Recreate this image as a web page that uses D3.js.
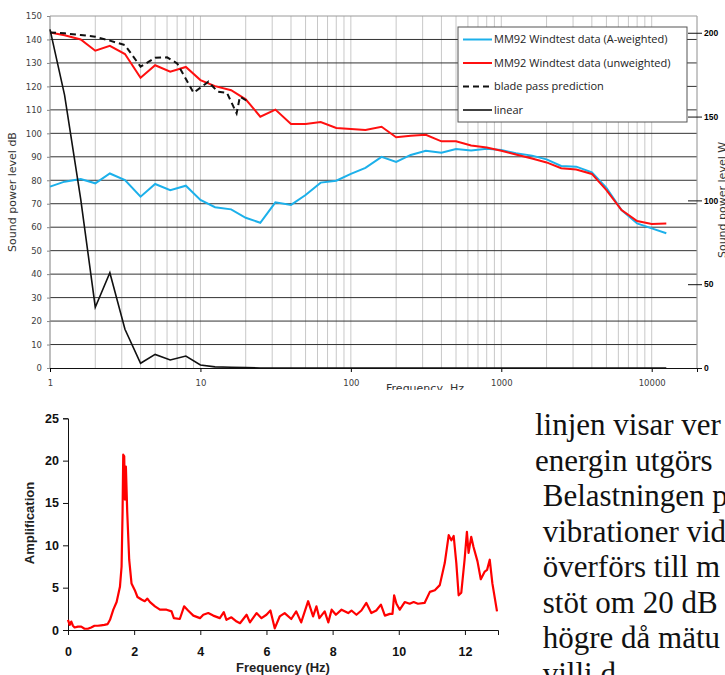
<!DOCTYPE html>
<meta charset="utf-8">
<style>
    body { margin: 0; background: #fff; }
    svg { display: block; }
    .db text { font: 8.5px "DejaVu Sans", sans-serif; fill: #404040; }
    .w text { font: bold 8.5px "Liberation Sans", sans-serif; fill: #000; }
    .amp text { font: bold 12.5px "Liberation Sans", sans-serif; fill: #111; }
    .legend text { font: 11px "Open Sans", sans-serif; fill: #222; }
    .para { font: 31px "Liberation Serif", serif; fill: #111; }
</style>
<svg width="725" height="675"></svg>

<script src="https://d3js.org/d3.v7.min.js"></script>
<script>
    // top chart: third-octave bands, sound power level dB
    var bands = [1, 1.25, 1.6, 2, 2.5, 3.15, 4, 5, 6.3, 8, 10, 12.5, 16, 20, 25, 31.5, 40, 50, 63, 80,
        100, 125, 160, 200, 250, 315, 400, 500, 630, 800, 1000, 1250, 1600, 2000, 2500, 3150, 4000, 5000, 6300, 8000, 10000, 12500];
    var aWeighted = [77.3, 79.4, 80.5, 78.7, 82.9, 80.1, 73, 78.4, 75.8, 77.7, 71.6, 68.5, 67.6, 64, 61.9, 70.6, 69.5, 73.7, 79, 79.8,
        82.7, 85.3, 90, 87.8, 90.8, 92.6, 91.7, 93.3, 92.7, 93.4, 92.9, 91.5, 90.5, 88.9, 86.1, 85.8, 83.4, 76.8, 67.3, 61.6, 59.5, 57.4];
    var unweighted = [143, 141.8, 140, 135.2, 137.3, 133.8, 123.7, 129, 126.3, 128.3, 122.7, 120.1, 118.4, 114.5, 107.1, 110.1, 104, 104, 104.8, 102.3,
        101.8, 101.4, 102.8, 98.3, 99, 99.4, 96.6, 96.6, 94.8, 94, 92.6, 91, 89.3, 87.6, 85.1, 84.6, 82.7, 75.8, 67.3, 62.6, 61.4, 61.6];
    var linear = [144.3, 116.3, 72, 25.9, 40.6, 16.5, 2, 5.8, 3.4, 5.1, 1.3, 0.5, 0.3, 0.2, 0, 0, 0, 0, 0, 0,
        0, 0, 0, 0, 0, 0, 0, 0, 0, 0, 0, 0, 0, 0, 0, 0, 0, 0, 0, 0, 0, 0];
    var bladeFreq = [1, 1.25, 1.6, 2, 2.5, 3.15, 4, 5, 6, 7, 9, 11.3, 13, 15, 17.4, 18.3, 20.8];
    var bladeLevel = [143, 142.6, 141.9, 141.2, 139.5, 137.6, 128.4, 132.2, 132.4, 129.8, 117.3, 122, 117.8, 117.3, 108.5, 115.6, 113.5];
    var legendNames = ["MM92 Windtest data (A-weighted)", "MM92 Windtest data (unweighted)", "blade pass prediction", "linear"];
    var dbTicks = d3.range(0, 151, 10);
    var wTicks = [0, 50, 100, 150, 200];
    var freqTicks = [1, 10, 100, 1000, 10000];

    // bottom chart: amplification spectrum
    var ampFreq = [0, 0.05, 0.1, 0.15, 0.2, 0.3, 0.4, 0.5, 0.6, 0.7,
        0.8, 0.9, 1.0, 1.1, 1.2, 1.27, 1.37, 1.47, 1.57, 1.62,
        1.65, 1.67, 1.7, 1.72, 1.75, 1.79, 1.85, 1.92, 2.02, 2.1,
        2.22, 2.32, 2.4, 2.48, 2.63, 2.78, 2.98, 3.13, 3.2, 3.38,
        3.51, 3.63, 3.79, 3.99, 4.09, 4.24, 4.39, 4.59, 4.71, 4.79,
        4.94, 5.1, 5.2, 5.4, 5.5, 5.7, 5.85, 6.0, 6.12, 6.25,
        6.4, 6.55, 6.75, 6.9, 7.05, 7.26, 7.41, 7.51, 7.6, 7.76,
        7.87, 7.97, 8.1, 8.27, 8.47, 8.57, 8.72, 8.87, 9.02, 9.17,
        9.32, 9.46, 9.58, 9.73, 9.81, 9.86, 9.93, 10.03, 10.18, 10.33,
        10.45, 10.58, 10.78, 10.94, 11.09, 11.24, 11.39, 11.51, 11.59, 11.66,
        11.74, 11.81, 11.89, 11.99, 12.06, 12.11, 12.19, 12.26, 12.38, 12.48,
        12.6, 12.67, 12.75, 12.83, 12.97];
    var amplification = [1.2, 0.6, 1.0, 0.5, 0.3, 0.4, 0.4, 0.15, 0.15, 0.3,
        0.5, 0.5, 0.55, 0.6, 0.7, 1.2, 2.4, 3.3, 5.1, 7.5,
        14, 20.7, 20.5, 15.4, 19.3, 14, 8.3, 5.5, 4.7, 3.9,
        3.6, 3.4, 3.7, 3.3, 2.8, 2.4, 2.4, 2.2, 1.4, 1.3,
        2.8, 2.3, 1.7, 1.4, 1.8, 2.0, 1.7, 1.4, 2.1, 1.2,
        1.5, 1.0, 0.8, 1.8, 0.9, 2.0, 1.4, 1.8, 2.3, 0.2,
        1.6, 2.0, 1.3, 2.2, 0.9, 3.4, 1.6, 2.8, 1.4, 2.2,
        0.9, 2.4, 1.8, 2.4, 2.0, 2.3, 1.8, 2.3, 3.2, 2.0,
        2.3, 3.0, 1.7, 1.9, 1.9, 4.1, 3.1, 2.4, 3.3, 3.1,
        3.3, 3.1, 3.2, 4.5, 4.7, 5.3, 7.9, 11.2, 10.6, 11.1,
        7.9, 4.1, 4.4, 8.3, 11.6, 9.1, 11.0, 9.8, 8.1, 6.0,
        6.9, 7.1, 8.3, 5.5, 2.2];
    var ampXTicks = [0, 2, 4, 6, 8, 10, 12];
    var ampYTicks = [0, 5, 10, 15, 20, 25];

    var paragraph = ["linjen visar ver", "energin utgörs", " Belastningen p", " vibrationer vid",
        " överförs till m", " stöt om 20 dB", " högre då mätu", " villi d"];

    var svg = d3.select("svg");

    // ---------- top chart (cropped screenshot) ----------
    svg.append("defs").append("clipPath").attr("id", "topclip")
        .append("rect").attr("width", 725).attr("height", 390);
    var g1 = svg.append("g").attr("clip-path", "url(#topclip)");

    var x = d3.scaleLog().domain([1, 20000]).range([50, 697]),
        y = d3.scaleLinear().domain([0, 150]).range([368, 16]),
        yW = d3.scaleLinear().domain([0, 210]).range([368, 16]);

    g1.selectAll(".vgrid")
        .data(x.ticks())
        .enter().append("line")
        .attr("x1", function(d) { return x(d); })
        .attr("x2", function(d) { return x(d); })
        .attr("y1", 16).attr("y2", 368)
        .attr("stroke", "#c8c8c8");

    g1.selectAll(".hgrid")
        .data(dbTicks.filter(function(d) { return d > 0; }))
        .enter().append("line")
        .attr("x1", 50).attr("x2", 697)
        .attr("y1", function(d) { return y(d); })
        .attr("y2", function(d) { return y(d); })
        .attr("stroke", function(d) { return d === 150 ? "#9a9a9a" : "#333"; });

    g1.append("line").attr("x1", 50).attr("x2", 50).attr("y1", 16).attr("y2", 368).attr("stroke", "#999");
    g1.append("line").attr("x1", 697).attr("x2", 697).attr("y1", 16).attr("y2", 368).attr("stroke", "#aaa");

    var yAxis = g1.append("g").attr("class", "db")
        .attr("transform", "translate(50,0)")
        .call(d3.axisLeft(y).tickValues(dbTicks).tickSize(3).tickPadding(5));
    yAxis.select(".domain").remove();
    yAxis.selectAll("line").attr("stroke", "#888");

    var xAxis = g1.append("g").attr("class", "db")
        .attr("transform", "translate(0,368)")
        .call(d3.axisBottom(x).tickValues(freqTicks).tickFormat(d3.format("d")).tickSize(4).tickPadding(8));
    xAxis.select(".domain").attr("stroke", "#111");

    var wAxis = g1.append("g").attr("class", "w")
        .attr("transform", "translate(688,0)")
        .call(d3.axisRight(yW).tickValues(wTicks).tickSize(14).tickPadding(2));
    wAxis.select(".domain").remove();
    wAxis.selectAll("line").attr("stroke", "#111");

    var line = d3.line()
        .x(function(d) { return x(d[0]); })
        .y(function(d) { return y(d[1]); });

    g1.append("path").datum(d3.zip(bands, aWeighted))
        .attr("d", line).attr("fill", "none").attr("stroke", "#1cb0ea").attr("stroke-width", 2);
    g1.append("path").datum(d3.zip(bands, unweighted))
        .attr("d", line).attr("fill", "none").attr("stroke", "#ff1010").attr("stroke-width", 2);
    g1.append("path").datum(d3.zip(bladeFreq, bladeLevel))
        .attr("d", line).attr("fill", "none").attr("stroke", "#111").attr("stroke-width", 2)
        .attr("stroke-dasharray", "6,4");
    g1.append("path").datum(d3.zip(bands, linear))
        .attr("d", line).attr("fill", "none").attr("stroke", "#111").attr("stroke-width", 1.6);

    var legend = g1.append("g").attr("class", "legend");
    legend.append("rect")
        .attr("x", 458).attr("y", 27).attr("width", 229).attr("height", 95)
        .attr("fill", "#fff").attr("stroke", "#555");
    var item = legend.selectAll(".item")
        .data(legendNames)
        .enter().append("g")
        .attr("transform", function(d, i) { return "translate(0," + (39.5 + i * 23.5) + ")"; });
    item.append("line")
        .attr("x1", 463).attr("x2", 492)
        .attr("stroke", function(d, i) { return ["#1cb0ea", "#ff1010", "#111", "#111"][i]; })
        .attr("stroke-width", function(d, i) { return i === 3 ? 1.6 : 2; })
        .attr("stroke-dasharray", function(d, i) { return i === 2 ? "6,4" : null; });
    item.append("text")
        .attr("x", 494).attr("dy", "0.35em")
        .text(function(d) { return d; });

    g1.append("text")
        .attr("transform", "translate(16,192) rotate(-90)")
        .attr("text-anchor", "middle")
        .style("font", "11px 'DejaVu Sans', sans-serif").style("fill", "#333")
        .text("Sound power level dB");
    g1.append("text")
        .attr("transform", "translate(726,200) rotate(-90)")
        .attr("text-anchor", "middle")
        .style("font", "11px 'DejaVu Sans', sans-serif").style("fill", "#333")
        .text("Sound power level W");
    g1.append("text")
        .attr("x", 425).attr("y", 392)
        .attr("text-anchor", "middle")
        .style("font", "11px 'DejaVu Sans', sans-serif").style("fill", "#333")
        .text("Frequency, Hz");

    // ---------- bottom chart ----------
    var xa = d3.scaleLinear().domain([0, 13]).range([68, 498]),
        ya = d3.scaleLinear().domain([0, 25]).range([630, 418.3]);

    var g2 = svg.append("g");
    g2.append("g").attr("class", "amp")
        .attr("transform", "translate(0,630)")
        .call(d3.axisBottom(xa).tickValues(ampXTicks).tickSize(5).tickPadding(12));
    g2.append("g").attr("class", "amp")
        .attr("transform", "translate(68,0)")
        .call(d3.axisLeft(ya).tickValues(ampYTicks).tickSize(5).tickPadding(4));
    g2.selectAll(".amp path, .amp line").attr("stroke", "#111");

    g2.append("path").datum(d3.zip(ampFreq, amplification))
        .attr("d", d3.line()
            .x(function(d) { return xa(d[0]); })
            .y(function(d) { return ya(d[1]); }))
        .attr("fill", "none").attr("stroke", "#ff0000").attr("stroke-width", 2.2)
        .attr("stroke-linejoin", "round");

    g2.append("text")
        .attr("transform", "translate(34,523) rotate(-90)")
        .attr("text-anchor", "middle")
        .style("font", "bold 13px 'Liberation Sans', sans-serif").style("fill", "#222")
        .text("Amplification");
    g2.append("text")
        .attr("x", 283).attr("y", 671.5)
        .attr("text-anchor", "middle")
        .style("font", "bold 13px 'Liberation Sans', sans-serif").style("fill", "#222")
        .text("Frequency (Hz)");

    // ---------- running text on the right ----------
    svg.append("g").selectAll("text")
        .data(paragraph)
        .enter().append("text")
        .attr("class", "para")
        .attr("x", 535)
        .attr("y", function(d, i) { return 435 + i * 35.5; })
        .attr("xml:space", "preserve")
        .style("white-space", "pre")
        .text(function(d) { return d; });
</script>
